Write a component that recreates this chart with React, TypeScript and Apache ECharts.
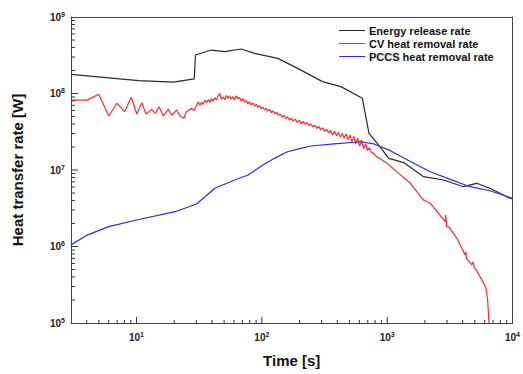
import React, { useEffect, useRef } from "react";
import * as echarts from "echarts";

const FONT = "'Liberation Sans', Arial, sans-serif";

const seriesNames = ["Energy release rate", "CV heat removal rate", "PCCS heat removal rate"];
const seriesColors = ["#2b2b2b", "#ff2a2a", "#2a2aff"];

const xRange = [3, 10000];
const yRange = [1e5, 1e9];
const xMajorTicks = [10, 100, 1000, 10000];
const yMajorTicks = [1e5, 1e6, 1e7, 1e8, 1e9];
const minorMultipliers = [2, 3, 4, 5, 6, 7, 8, 9];

const energyReleaseRate: [number, number][] = [
  [3, 1.78e8], [10.4, 1.47e8], [19.7, 1.41e8], [28.9, 1.55e8], [29.5, 3.19e8],
  [39.4, 3.7e8], [50.6, 3.52e8], [68.5, 3.82e8], [87.5, 3.35e8], [134, 2.88e8],
  [193, 2.13e8], [305, 1.43e8], [427, 1.23e8], [634, 8.65e7], [716, 3.02e7],
  [834, 2.23e7], [1031, 1.42e7], [1355, 1.25e7], [1954, 8.17e6], [2818, 7.4e6],
  [4061, 6.05e6], [5176, 6.7e6], [6610, 5.76e6], [9520, 4.27e6], [10000, 4.2e6],
];

const cvHeatRemovalRate: [number, number][] = [
  [3, 8.2e7], [4.04, 8.2e7], [4.99, 9.77e7], [6.0, 5.08e7], [6.98, 7.45e7],
  [8.04, 5.78e7], [9.07, 8.92e7], [10.05, 5.4e7], [11.0, 7.6e7], [11.9, 5.4e7],
  [13.2, 6.2e7], [14.1, 5.5e7], [15.1, 6.7e7], [16.4, 5.08e7], [17.9, 6.2e7],
  [19.1, 5.2e7], [20.9, 6.1e7], [22.2, 5.08e7], [23.9, 4.74e7], [25.0, 5.78e7],
  [27.5, 6.4e7], [28.9, 6.0e7], [31.0, 7.8e7], [32.0, 7.0e7], [33.0, 7.7e7],
  [34.0, 7.2e7], [35.0, 8.2e7], [36.2, 7.6e7], [37.3, 8.3e7], [38.5, 7.7e7],
  [39.7, 8.6e7], [40.8, 7.9e7], [42.0, 8.8e7], [43.3, 8.2e7], [44.6, 9.3e7],
  [46.1, 1.0e8], [47.5, 8.4e7], [49.0, 9.0e7], [50.5, 8.3e7], [52.0, 9.4e7],
  [53.5, 8.6e7], [55.2, 9.3e7], [57.0, 8.4e7], [58.7, 9.1e7], [60.5, 8.3e7],
  [62.4, 9.3e7], [64.4, 8.5e7], [66.4, 8.9e7], [68.5, 7.9e7], [70.6, 8.6e7],
  [72.8, 7.7e7], [75.0, 8.1e7], [77.4, 7.3e7], [79.8, 7.8e7], [82.2, 7.1e7],
  [84.8, 7.5e7], [87.4, 6.8e7], [90.1, 7.2e7], [93, 6.6e7], [96, 6.9e7],
  [99, 6.3e7], [102, 6.6e7], [105, 6.1e7], [108, 6.4e7], [111, 5.9e7],
  [115, 6.2e7], [119, 5.6e7], [123, 5.9e7], [127, 5.4e7], [131, 5.7e7],
  [135, 5.2e7], [140, 5.4e7], [145, 4.9e7], [150, 5.2e7], [155, 4.7e7],
  [160, 4.95e7], [166, 4.5e7], [172, 4.75e7], [178, 4.35e7], [185, 4.6e7],
  [192, 4.2e7], [199, 4.45e7], [206, 4.05e7], [214, 4.3e7], [222, 3.95e7],
  [230, 4.15e7], [238, 3.8e7], [247, 4.0e7], [256, 3.65e7], [265, 3.85e7],
  [275, 3.5e7], [285, 3.7e7], [295, 3.35e7], [306, 3.55e7], [317, 3.2e7],
  [329, 3.4e7], [341, 3.05e7], [353, 3.3e7], [366, 2.9e7], [380, 3.2e7],
  [394, 2.8e7], [408, 3.1e7], [423, 2.7e7], [438, 3.0e7], [454, 2.6e7],
  [470, 2.95e7], [487, 2.5e7], [505, 2.85e7], [523, 2.35e7], [542, 2.75e7],
  [562, 2.2e7], [582, 2.6e7], [603, 2.05e7], [625, 2.45e7], [648, 1.9e7],
  [672, 2.2e7], [696, 1.8e7], [721, 1.95e7], [747, 1.7e7], [780, 1.65e7],
  [820, 1.5e7], [880, 1.4e7], [940, 1.3e7], [1000, 1.22e7], [1250, 8.9e6],
  [1531, 6.7e6], [1950, 4.05e6], [2207, 3.67e6], [2903, 2.11e6], [2930, 2.6e6],
  [2990, 1.8e6], [3100, 1.8e6], [3598, 1.28e6], [4190, 7.75e5], [4230, 8.6e5],
  [4300, 7.0e5], [4732, 5.73e5], [4850, 6.3e5], [4950, 5.3e5], [5176, 4.83e5],
  [5851, 3.36e5], [6138, 2.84e5], [6334, 2.0e5], [6492, 1.0e5],
];

const pccsHeatRemovalRate: [number, number][] = [
  [3, 1.05e6], [4.04, 1.41e6], [6, 1.82e6], [10, 2.22e6], [20.3, 2.85e6],
  [30.1, 3.6e6], [42.2, 5.77e6], [60.7, 7.4e6], [77.5, 8.6e6], [102, 1.16e7],
  [126, 1.42e7], [160, 1.73e7], [200, 1.9e7], [246, 2.06e7], [378, 2.19e7],
  [614, 2.34e7], [784, 2.19e7], [1061, 1.79e7], [1531, 1.29e7], [2207, 9.5e6],
  [3184, 7.55e6], [4583, 6.05e6], [6610, 5.36e6], [10000, 4.27e6],
];

function minorValues(majors: number[], extraLow: number[] = []): number[] {
  const out: number[] = extraLow.slice();
  for (let i = 0; i < majors.length - 1; i++) {
    for (const m of minorMultipliers) out.push(majors[i] * m);
  }
  return out;
}

const xMinorTicks = minorValues(xMajorTicks, [4, 5, 6, 7, 8, 9]);
const yMinorTicks = minorValues(yMajorTicks);

const powLabel = (v: number) => `{b|10}{s|${Math.round(Math.log10(v))}}`;
const labelRich = {
  b: { fontSize: 10, fontWeight: "bold", fontFamily: FONT, color: "#222", lineHeight: 13 },
  s: { fontSize: 7, fontWeight: "bold", fontFamily: FONT, color: "#222", verticalAlign: "top", lineHeight: 8 },
};

const frameLine = () => ({ show: true, lineStyle: { color: "#444", width: 1 } });

// tick marks drawn as thin rect symbols placed through the log axes
function tickSeries(points: [number, number][], size: number[], offset: number[]) {
  return {
    type: "scatter",
    xAxisIndex: 0,
    yAxisIndex: 0,
    data: points,
    symbol: "rect",
    symbolSize: size,
    symbolOffset: offset,
    itemStyle: { color: "#333", opacity: 1 },
    silent: true,
    clip: false,
    z: 3,
    emphasis: { disabled: true },
  };
}

export default function App() {
  const ref = useRef<HTMLDivElement>(null);
  useEffect(() => {
    if (!ref.current) return;
    const chart = echarts.init(ref.current, null, { renderer: "svg" });
    const legendTops = [25, 38, 51];
    const innerXMajor = xMajorTicks.filter((v) => v < xRange[1]);
    const innerYMajor = yMajorTicks.filter((v) => v > yRange[0] && v < yRange[1]);
    chart.setOption({
      animation: false,
      backgroundColor: "#fff",
      grid: { left: 71, right: 7, top: 17, bottom: 51, show: false },
      legend: seriesNames.map((name, i) => ({
        left: 339,
        top: legendTops[i],
        itemWidth: 26,
        itemHeight: 8,
        itemGap: 0,
        padding: 0,
        icon: "path://M0,5 L26,5 L26,6 L0,6 Z",
        textStyle: { fontFamily: FONT, fontSize: 11, fontWeight: "bold", color: "#111", padding: [0, 0, 0, -1] },
        data: [name],
      })),
      xAxis: [
        {
          type: "log",
          min: xRange[0],
          max: xRange[1],
          position: "bottom",
          name: "Time [s]",
          nameLocation: "middle",
          nameGap: 30,
          nameTextStyle: { fontFamily: FONT, fontSize: 15, fontWeight: "bold", color: "#111" },
          axisLine: frameLine(),
          axisTick: { show: false },
          axisLabel: { show: true, margin: 8, customValues: xMajorTicks, formatter: powLabel, rich: labelRich },
          splitLine: { show: false },
        },
        {
          type: "log",
          min: xRange[0],
          max: xRange[1],
          position: "top",
          axisLine: frameLine(),
          axisTick: { show: false },
          axisLabel: { show: false },
          splitLine: { show: false },
        },
      ],
      yAxis: [
        {
          type: "log",
          min: yRange[0],
          max: yRange[1],
          position: "left",
          name: "Heat transfer rate [W]",
          nameLocation: "middle",
          nameGap: 46,
          nameTextStyle: { fontFamily: FONT, fontSize: 15, fontWeight: "bold", color: "#111" },
          axisLine: frameLine(),
          axisTick: { show: false },
          axisLabel: { show: true, margin: 6, customValues: yMajorTicks, formatter: powLabel, rich: labelRich },
          splitLine: { show: false },
        },
        {
          type: "log",
          min: yRange[0],
          max: yRange[1],
          position: "right",
          axisLine: frameLine(),
          axisTick: { show: false },
          axisLabel: { show: false },
          splitLine: { show: false },
        },
      ],
      series: [
        ...[
          { name: seriesNames[0], data: energyReleaseRate, color: seriesColors[0] },
          { name: seriesNames[1], data: cvHeatRemovalRate, color: seriesColors[1] },
          { name: seriesNames[2], data: pccsHeatRemovalRate, color: seriesColors[2] },
        ].map((s) => ({
          ...s,
          type: "line",
          xAxisIndex: 0,
          yAxisIndex: 0,
          symbol: "none",
          z: 2,
          lineStyle: { width: 1.2, color: s.color },
          itemStyle: { color: s.color },
        })),
        tickSeries(innerXMajor.map((v) => [v, yRange[0]] as [number, number]), [1, 6], [0, -3]),
        tickSeries(xMinorTicks.map((v) => [v, yRange[0]] as [number, number]), [1, 3], [0, -1.5]),
        tickSeries(innerYMajor.map((v) => [xRange[0], v] as [number, number]), [7, 1], [3.5, 0]),
        tickSeries(yMinorTicks.map((v) => [xRange[0], v] as [number, number]), [4, 1], [2, 0]),
      ],
    });
    return () => chart.dispose();
  }, []);
  return <div ref={ref} style={{ width: 523, height: 374, position: "absolute", left: 0, top: 0 }} />;
}
